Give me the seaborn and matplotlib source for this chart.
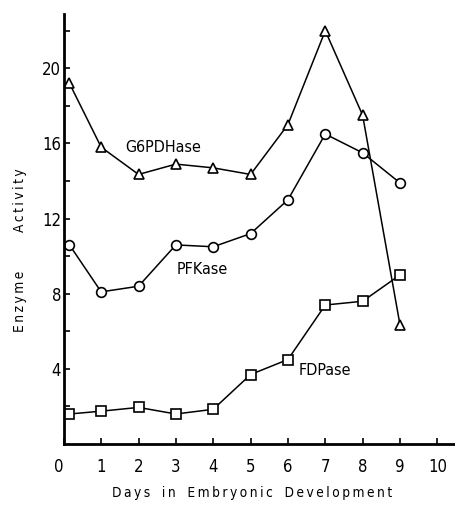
import seaborn as sns
import matplotlib.pyplot as plt
import pandas as pd
import numpy as np

days = [0.15, 1, 2, 3, 4, 5, 6, 7, 8, 9]
g6pdhase = [19.2, 15.8, 14.35, 14.9, 14.7, 14.35, 17.0, 22.0, 17.5, 6.35]
pfkase = [10.6, 8.1, 8.4, 10.6, 10.5, 11.2, 13.0, 16.5, 15.5, 13.9]
fdpase = [1.6, 1.75, 1.95, 1.6, 1.85, 3.7, 4.5, 7.4, 7.6, 9.0]

sns.set_style("ticks")
plt.rcParams['font.family'] = ['DejaVu Sans']
plt.rcParams['font.stretch'] = 'condensed'
plt.rcParams['text.color'] = 'black'
plt.rcParams['xtick.color'] = 'black'
plt.rcParams['ytick.color'] = 'black'
plt.rcParams['axes.edgecolor'] = 'black'


def spaced(text):
    # letter-spaced label, as in the scanned original
    return '   '.join('\u2009'.join(w) for w in text.split())


fig = plt.figure(figsize=(4.56, 5.11), dpi=100)
ax = fig.add_axes([0.14, 0.131, 0.86, 0.842])

# open markers, black lines
for vals, mk, ms in [(g6pdhase, '^', 7.5), (pfkase, 'o', 7), (fdpase, 's', 6.5)]:
    sns.lineplot(x=days, y=vals, ax=ax, color='black', lw=1.1,
                 marker=mk, markersize=ms, markerfacecolor='white',
                 markeredgecolor='black', markeredgewidth=1.2)

ax.set_xlim(0, 10.5)
ax.set_ylim(0, 22.9)
ax.set_xticks(range(0, 11))
ax.set_yticks(range(2, 23, 2))
ax.set_yticklabels(['' if v % 4 else str(v) for v in range(2, 23, 2)])
ax.tick_params(axis='x', direction='in', length=4, width=1.2, pad=10, labelsize=12)
ax.tick_params(axis='y', direction='in', length=4, width=1.2, pad=2, labelsize=12)
ax.get_xticklabels()[0].set_ha('right')

sns.despine(ax=ax)
for s in ['left', 'bottom']:
    ax.spines[s].set_linewidth(2)

ax.text(2.67, 15.8, 'G6PDHase', fontsize=11.5, ha='center', va='center')
ax.text(3.7, 9.3, 'PFKase', fontsize=11.5, ha='center', va='center')
ax.text(7.0, 3.9, 'FDPase', fontsize=11.5, ha='center', va='center')

fig.text(0.553, 0.035, spaced('Days  in  Embryonic  Development'),
         fontsize=9.8, ha='center', va='center')
fig.text(0.044, 0.511, spaced('Enzyme     Activity').replace('   ', '          '),
         fontsize=9.8, ha='center', va='center', rotation=90)

fig.savefig('out.png', dpi=100)
